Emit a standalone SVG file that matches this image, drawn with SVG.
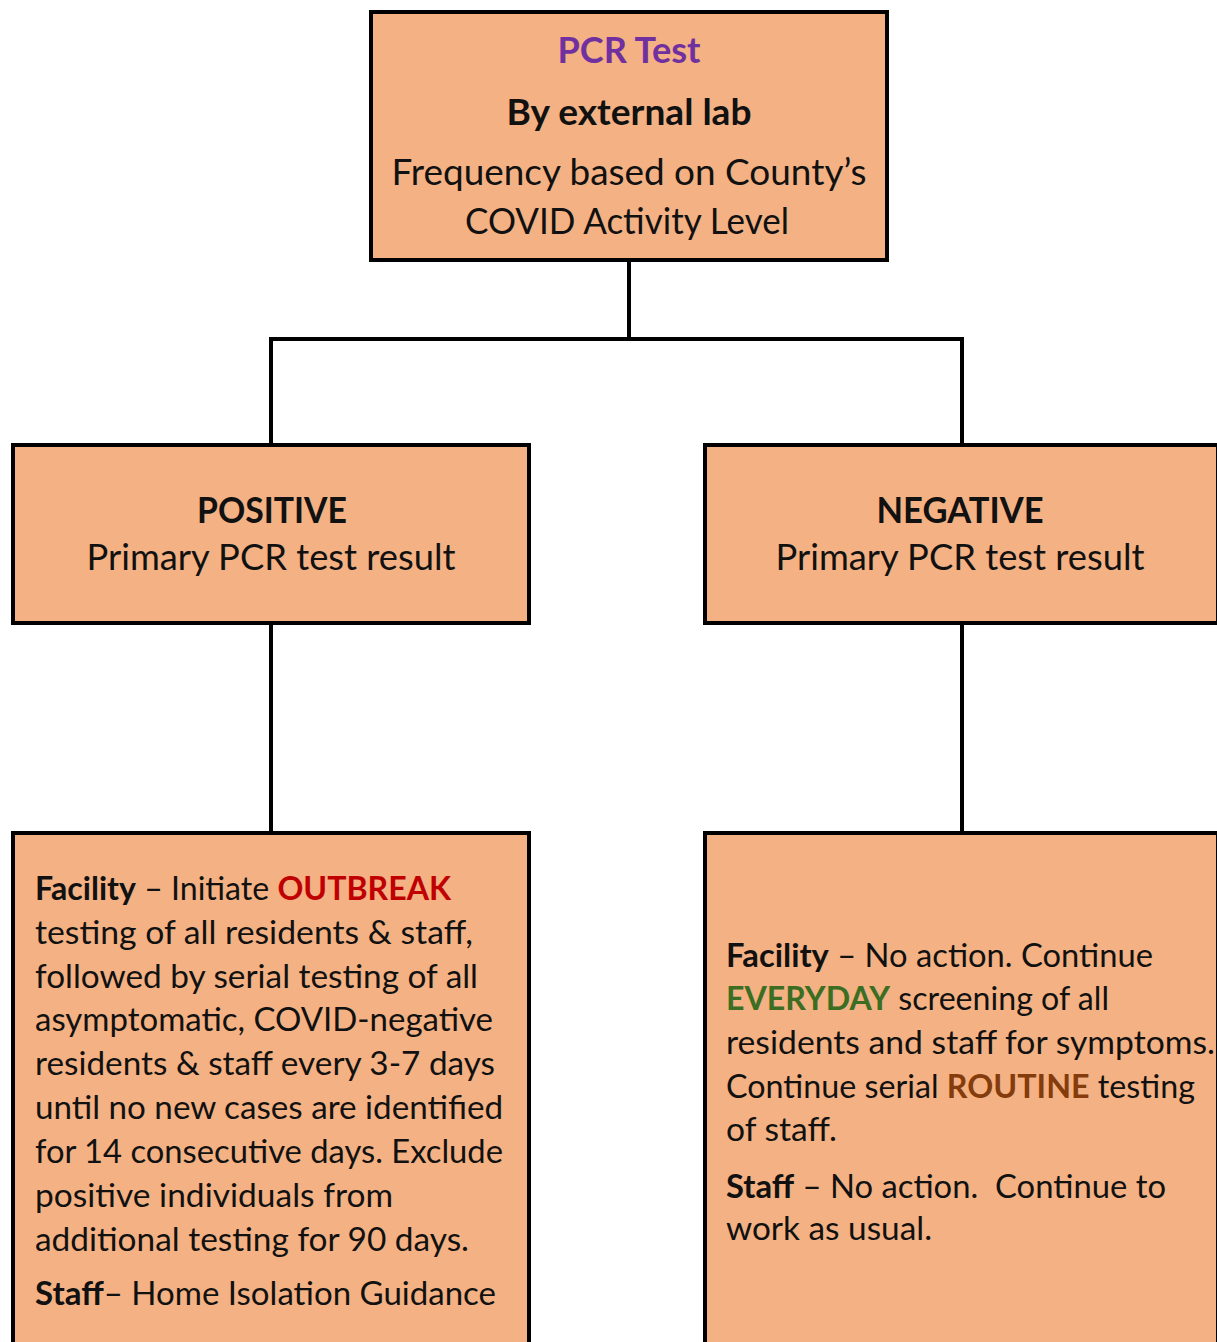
<svg xmlns="http://www.w3.org/2000/svg" width="1217" height="1342" viewBox="0 0 1217 1342">
  <style>
    .box { fill: #F4B183; stroke: #000; stroke-width: 4; }
    .wire { fill: none; stroke: #000; stroke-width: 4; stroke-linecap: butt; }
    text { font-family: Lato, "Open Sans", "Liberation Sans", sans-serif; fill: #111; }
    .t-top { font-size: 36px; }
    .t-mid { font-size: 36px; }
    .t-body { font-size: 33px; white-space: pre; }
    .b { font-weight: bold; }
    .purple { fill: #7030A0; }
    .red { fill: #C00000; }
    .green { fill: #3B6E22; }
    .brown { fill: #843C0C; }
  </style>

  <!-- connectors -->
  <g id="connectors">
    <path class="wire" d="M629 260 V339 M269 339 H964 M271 339 V445 M962 339 V445"/>
    <path class="wire" d="M271 623 V833"/>
    <path class="wire" d="M962 623 V833"/>
  </g>

  <!-- root: PCR test -->
  <g id="pcr-test">
    <rect class="box" x="371" y="12" width="516" height="248"/>
    <text class="t-top b purple" x="629" y="63" text-anchor="middle" textLength="143" lengthAdjust="spacingAndGlyphs">PCR Test</text>
    <text class="t-top b" x="629" y="125" text-anchor="middle" textLength="245" lengthAdjust="spacingAndGlyphs">By external lab</text>
    <text class="t-top" x="629" y="185" text-anchor="middle" textLength="475" lengthAdjust="spacingAndGlyphs">Frequency based on County’s</text>
    <text class="t-top" x="627" y="234" text-anchor="middle" textLength="324" lengthAdjust="spacingAndGlyphs">COVID Activity Level</text>
  </g>

  <!-- positive result -->
  <g id="positive">
    <rect class="box" x="13" y="445" width="516" height="178"/>
    <text class="t-mid b" x="272" y="523" text-anchor="middle" textLength="150" lengthAdjust="spacingAndGlyphs">POSITIVE</text>
    <text class="t-mid" x="271" y="570" text-anchor="middle" textLength="369" lengthAdjust="spacingAndGlyphs">Primary PCR test result</text>
  </g>

  <!-- negative result -->
  <g id="negative">
    <rect class="box" x="705" y="445" width="513" height="178"/>
    <text class="t-mid b" x="960" y="523" text-anchor="middle" textLength="167" lengthAdjust="spacingAndGlyphs">NEGATIVE</text>
    <text class="t-mid" x="960" y="570" text-anchor="middle" textLength="369" lengthAdjust="spacingAndGlyphs">Primary PCR test result</text>
  </g>

  <!-- actions after a positive result -->
  <g id="positive-actions">
    <rect class="box" x="13" y="833" width="516" height="520"/>
    <text class="t-body" x="35" y="900" textLength="416" lengthAdjust="spacingAndGlyphs"><tspan class="b">Facility</tspan> – Initiate <tspan class="b red">OUTBREAK</tspan></text>
    <text class="t-body" x="35" y="944" textLength="438" lengthAdjust="spacingAndGlyphs">testing of all residents &amp; staff,</text>
    <text class="t-body" x="35" y="988" textLength="443" lengthAdjust="spacingAndGlyphs">followed by serial testing of all</text>
    <text class="t-body" x="35" y="1031" textLength="458" lengthAdjust="spacingAndGlyphs">asymptomatic, COVID-negative</text>
    <text class="t-body" x="35" y="1075" textLength="460" lengthAdjust="spacingAndGlyphs">residents &amp; staff every 3-7 days</text>
    <text class="t-body" x="35" y="1119" textLength="468" lengthAdjust="spacingAndGlyphs">until no new cases are identified</text>
    <text class="t-body" x="35" y="1163" textLength="468" lengthAdjust="spacingAndGlyphs">for 14 consecutive days. Exclude</text>
    <text class="t-body" x="35" y="1207" textLength="358" lengthAdjust="spacingAndGlyphs">positive individuals from</text>
    <text class="t-body" x="35" y="1251" textLength="434" lengthAdjust="spacingAndGlyphs">additional testing for 90 days.</text>
    <text class="t-body" x="35" y="1305" textLength="461" lengthAdjust="spacingAndGlyphs"><tspan class="b">Staff</tspan>– Home Isolation Guidance</text>
  </g>

  <!-- actions after a negative result -->
  <g id="negative-actions">
    <rect class="box" x="705" y="833" width="513" height="520"/>
    <text class="t-body" x="726" y="967" textLength="427" lengthAdjust="spacingAndGlyphs"><tspan class="b">Facility</tspan> – No action. Continue</text>
    <text class="t-body" x="726" y="1010" textLength="383" lengthAdjust="spacingAndGlyphs"><tspan class="b green">EVERYDAY</tspan> screening of all</text>
    <text class="t-body" x="726" y="1054" textLength="489" lengthAdjust="spacingAndGlyphs">residents and staff for symptoms.</text>
    <text class="t-body" x="726" y="1098" textLength="469" lengthAdjust="spacingAndGlyphs">Continue serial <tspan class="b brown">ROUTINE</tspan> testing</text>
    <text class="t-body" x="726" y="1141" textLength="111" lengthAdjust="spacingAndGlyphs">of staff.</text>
    <text class="t-body" x="726" y="1198" textLength="440" lengthAdjust="spacingAndGlyphs"><tspan class="b">Staff</tspan> – No action.  Continue to</text>
    <text class="t-body" x="726" y="1240" textLength="206" lengthAdjust="spacingAndGlyphs">work as usual.</text>
  </g>
</svg>
